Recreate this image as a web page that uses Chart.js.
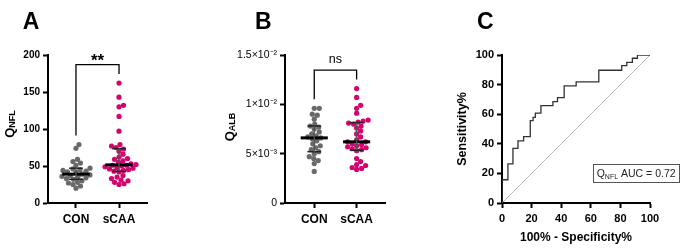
<!DOCTYPE html>
<html lang="en">
<head>
<meta charset="UTF-8">
<title>QNFL / QALB / ROC</title>
<style>
  * { margin: 0; padding: 0; box-sizing: border-box; }
  body { width: 685px; height: 251px; background: #fff; position: relative; overflow: hidden; }
  canvas { position: absolute; top: 0; }
  #chartA { left: 0; }
  #chartB { left: 220px; }
  #chartC { left: 440px; }
</style>
</head>
<body>
<canvas id="chartA" width="220" height="251"></canvas>
<canvas id="chartB" width="220" height="251"></canvas>
<canvas id="chartC" width="245" height="251"></canvas>
<script src="https://cdn.jsdelivr.net/npm/chart.js@4.4.0/dist/chart.umd.min.js"></script>
<script>
// ── Data ────────────────────────────────────────────────────────────────────
const groups = ["CON", "sCAA"];

const qnflCon  = [79, 74, 59, 56, 54, 51, 47, 46, 45, 44, 43, 42, 41, 39, 38, 37, 36, 35, 34, 33, 32, 30, 28, 27, 25, 23, 20];
const qnflScaa = [162, 143, 132, 130, 117, 97, 79, 77, 75, 73, 70, 66, 62, 60, 59, 57, 55, 53, 52, 51, 51, 50, 49, 48,
                  47, 46, 45, 44, 43, 42, 37, 35, 33, 31, 30, 28, 26, 25];
const qnflTicks = [0, 50, 100, 150, 200];
const qnflTickLabels = ["0", "50", "100", "150", "200"];

const qalbCon  = [0.0096, 0.0096, 0.0090, 0.0089, 0.0085, 0.0080, 0.0078, 0.0077, 0.0075, 0.0072, 0.0070, 0.0068, 0.0067,
                  0.0066, 0.0065, 0.0063, 0.0060, 0.0058, 0.0056, 0.0054, 0.0052, 0.0050, 0.0047, 0.0045, 0.0043, 0.0040, 0.0032];
const qalbScaa = [0.0116, 0.0107, 0.0099, 0.0096, 0.0091, 0.0084, 0.0083, 0.0082, 0.0081, 0.0080, 0.0078, 0.0076, 0.0073,
                  0.0070, 0.0067, 0.0064, 0.0062, 0.0062, 0.0060, 0.0059, 0.0058, 0.0057, 0.0056, 0.0055, 0.0054, 0.0053,
                  0.0045, 0.0042, 0.0039, 0.0038, 0.0036, 0.0035, 0.0034];
const qalbTicks = [0, 0.005, 0.010, 0.015];
const qalbTickLabels = ["0", "5×10⁻³", "1×10⁻²", "1.5×10⁻²"];

// ROC corners (100% - specificity, sensitivity)
const rocFpr  = [0, 0, 4.0, 7.4, 10.8, 14.6, 19.1, 21.0, 22.5, 26.3, 34.4, 37.5, 42.0, 50.1, 65.4, 80.9, 84.3, 88.1, 91.5, 100];
const rocSens = [0, 15.7, 26.5, 36.9, 42.0, 44.9, 55.7, 57.9, 60.7, 65.8, 68.5, 71.2, 79.1, 81.8, 89.7, 92.8, 95.0, 97.8, 100, 100];
const rocTicks = [0, 20, 40, 60, 80, 100];
const aucText = " AUC = 0.72";

const GREY = "#696969";
const PINK = "#d4046e";
const FONT = "'Liberation Sans', Arial, Helvetica, sans-serif";

Chart.defaults.font.family = FONT;
Chart.defaults.color = "#000";

// ── helpers ─────────────────────────────────────────────────────────────────
function quantile(arr, p) {
  const s = [...arr].sort((a, b) => a - b);
  const h = Math.min(Math.max((s.length + 1) * p - 1, 0), s.length - 1);
  const lo = Math.floor(h), hi = Math.ceil(h);
  return s[lo] + (h - lo) * (s[hi] - s[lo]);
}

function seg(x1, y1, x2, y2, color, width) {
  return {
    data: [{ x: x1, y: y1 }, { x: x2, y: y2 }],
    showLine: true, borderColor: color, borderWidth: width,
    pointRadius: 0, order: 0, borderCapStyle: "butt"
  };
}

// median with interquartile range
function summaryLines(values, cx) {
  const med = quantile(values, 0.5), q1 = quantile(values, 0.25), q3 = quantile(values, 0.75);
  return [
    seg(cx, q1, cx, q3, "#555", 1.4),
    seg(cx - 0.16, q1, cx + 0.16, q1, "#222", 1.5),
    seg(cx - 0.16, q3, cx + 0.16, q3, "#222", 1.5),
    seg(cx - 0.32, med, cx + 0.32, med, "#000", 3)
  ];
}

// simple beeswarm: spread points sideways in pixel space so they don't overlap much
function swarm(values, cx, chart, diam) {
  const xs = chart.scales.x, ys = chart.scales.y;
  const cpx = xs.getPixelForValue(cx);
  const placed = [];
  const out = new Array(values.length);
  const idx = values.map((_, i) => i).sort((a, b) => values[a] - values[b]);
  for (const i of idx) {
    const py = ys.getPixelForValue(values[i]);
    let dx = 0;
    for (let k = 0; k < 400; k++) {
      const cand = (k % 2 ? 1 : -1) * Math.ceil(k / 2) * 0.5;
      if (placed.every(p => Math.hypot(p.x - cand, p.y - py) >= diam)) { dx = cand; break; }
    }
    placed.push({ x: dx, y: py });
    out[i] = { x: xs.getValueForPixel(cpx + dx), y: values[i] };
  }
  return out;
}

const axisGrid = { display: true, drawOnChartArea: false, drawTicks: true, tickLength: 5, tickWidth: 2, tickColor: "#000" };
const axisBorder = { display: true, color: "#000", width: 2 };

// ── annotations: panel letter, subscript title, bracket, legend box ────────
const panelDecor = {
  id: "panelDecor",
  afterDraw(chart, args, o) {
    const { ctx, scales: { x, y } } = chart;
    ctx.save();
    ctx.fillStyle = "#000";
    ctx.textAlign = "left";
    ctx.textBaseline = "alphabetic";
    ctx.font = `bold 23px ${FONT}`;
    ctx.fillText(o.letter, o.letterX, 28.5);

    if (o.yTitle) {
      ctx.save();
      ctx.translate(13.6, o.yTitleY);
      ctx.rotate(-Math.PI / 2);
      ctx.font = `bold 13px ${FONT}`;
      const wQ = ctx.measureText(o.yTitle[0]).width;
      ctx.font = `bold 9px ${FONT}`;
      const wS = ctx.measureText(o.yTitle[1]).width;
      const x0 = -(wQ + wS) / 2;
      ctx.font = `bold 13px ${FONT}`;
      ctx.fillText(o.yTitle[0], x0, 0);
      ctx.font = `bold 9px ${FONT}`;
      ctx.fillText(o.yTitle[1], x0 + wQ, 1.5);
      ctx.restore();
    }

    if (o.sig) {
      const legs = o.groupMax.map((m, i) => ({ px: x.getPixelForValue(i + 1), py: y.getPixelForValue(m) - 9 }));
      const top = Math.min(...legs.map(l => l.py)) - 9.5;
      ctx.beginPath();
      ctx.moveTo(legs[0].px, legs[0].py);
      ctx.lineTo(legs[0].px, top);
      ctx.lineTo(legs[1].px, top);
      ctx.lineTo(legs[1].px, legs[1].py);
      ctx.lineWidth = 1.3;
      ctx.strokeStyle = "#000";
      ctx.stroke();
      ctx.font = o.sigFont;
      ctx.textAlign = "center";
      ctx.fillText(o.sig, (legs[0].px + legs[1].px) / 2, top - o.sigGap);
    }

    if (o.box) {
      const b = o.box;
      ctx.font = `10.5px ${FONT}`;
      const w1 = ctx.measureText(b.main).width;
      ctx.font = `7px ${FONT}`;
      const w2 = ctx.measureText(b.sub).width;
      ctx.font = `10.5px ${FONT}`;
      const w3 = ctx.measureText(b.rest).width;
      const bw = 4 + w1 + w2 + w3 + 3;
      ctx.fillStyle = "#fff";
      ctx.fillRect(b.x, b.y, bw, b.h);
      ctx.strokeStyle = "#555";
      ctx.lineWidth = 1;
      ctx.strokeRect(Math.round(b.x) + 0.5, Math.round(b.y) + 0.5, Math.round(bw), Math.round(b.h));
      ctx.fillStyle = "#222";
      const base = b.y + b.h / 2 + 3.8;
      ctx.fillText(b.main, b.x + 4, base);
      ctx.font = `7px ${FONT}`;
      ctx.fillText(b.sub, b.x + 4 + w1, base + 2);
      ctx.font = `10.5px ${FONT}`;
      ctx.fillText(b.rest, b.x + 4 + w1 + w2, base);
    }
    ctx.restore();
  }
};

// ── dot plot panels (A, B) ──────────────────────────────────────────────────
function dotChart(id, cfg) {
  const values = [cfg.con, cfg.scaa];
  const colors = [GREY, PINK];
  const dotSets = values.map((vals, g) => ({
    data: vals.map(v => ({ x: g + 1, y: v })),
    backgroundColor: colors[g], borderWidth: 0, pointRadius: 2.6, order: 1
  }));
  const lineSets = values.flatMap((vals, g) => summaryLines(vals, g + 1));

  const chart = new Chart(document.getElementById(id), {
    type: "scatter",
    data: { datasets: [...lineSets, ...dotSets] },
    options: {
      responsive: false, animation: false, events: [],
      layout: { padding: { top: 55, right: cfg.rightPad, left: 0, bottom: 0 } },
      plugins: {
        legend: { display: false }, tooltip: { enabled: false },
        panelDecor: {
          letter: cfg.letter, letterX: cfg.letterX,
          yTitle: cfg.yTitle, yTitleY: cfg.yTitleY,
          groupMax: values.map(v => Math.max(...v)),
          sig: cfg.sig, sigFont: cfg.sigFont, sigGap: cfg.sigGap
        }
      },
      scales: {
        x: {
          type: "linear", min: cfg.xMin, max: cfg.xMax,
          afterBuildTicks: s => { s.ticks = groups.map((_, i) => ({ value: i + 1 })); },
          afterFit: s => { s.height = 48; },
          ticks: { callback: (v, i) => groups[i], font: { size: 12, weight: "bold" }, color: "#000", padding: 4 },
          grid: axisGrid, border: axisBorder
        },
        y: {
          type: "linear", min: cfg.ticks[0], max: cfg.ticks[cfg.ticks.length - 1],
          afterBuildTicks: s => { s.ticks = cfg.ticks.map(v => ({ value: v })); },
          afterFit: s => { s.width = cfg.yAxisWidth; },
          ticks: { callback: (v, i) => cfg.tickLabels[i], font: cfg.tickFont, color: "#000", padding: 3 },
          grid: axisGrid, border: axisBorder
        }
      }
    },
    plugins: [panelDecor]
  });

  dotSets.forEach((ds, g) => {
    chart.data.datasets[lineSets.length + g].data = swarm(values[g], g + 1, chart, 4.7);
  });
  chart.update("none");
  return chart;
}

dotChart("chartA", {
  con: qnflCon, scaa: qnflScaa,
  ticks: qnflTicks, tickLabels: qnflTickLabels,
  tickFont: { size: 10, weight: "bold" },
  xMin: 0.35, xMax: 2.65, yAxisWidth: 48, rightPad: 73,
  letter: "A", letterX: 22.7,
  yTitle: ["Q", "NFL"], yTitleY: 124,
  sig: "**", sigFont: `bold 17px ${FONT}`, sigGap: -1
});

dotChart("chartB", {
  con: qalbCon, scaa: qalbScaa,
  ticks: qalbTicks, tickLabels: qalbTickLabels,
  tickFont: { size: 10.5 },
  xMin: 0.31, xMax: 2.67, yAxisWidth: 65, rightPad: 55,
  letter: "B", letterX: 35,
  yTitle: ["Q", "ALB"], yTitleY: 127,
  sig: "ns", sigFont: `12.5px ${FONT}`, sigGap: 7
});

// ── ROC panel (C) ───────────────────────────────────────────────────────────
new Chart(document.getElementById("chartC"), {
  type: "scatter",
  data: {
    datasets: [
      {
        data: rocFpr.map((x, i) => ({ x, y: rocSens[i] })),
        showLine: true, stepped: true, borderColor: "#333", borderWidth: 1.3, pointRadius: 0, order: 0
      },
      {
        data: [{ x: rocTicks[0], y: rocTicks[0] }, { x: rocTicks[rocTicks.length - 1], y: rocTicks[rocTicks.length - 1] }],
        showLine: true, borderColor: "#b5b5b5", borderWidth: 1, pointRadius: 0, order: 1
      }
    ]
  },
  options: {
    responsive: false, animation: false, events: [],
    layout: { padding: { top: 55, right: 35, left: 0, bottom: 0 } },
    plugins: {
      legend: { display: false }, tooltip: { enabled: false },
      panelDecor: {
        letter: "C", letterX: 37,
        box: { x: 152.7, y: 164.3, h: 18.4, main: "Q", sub: "NFL", rest: aucText }
      }
    },
    scales: {
      x: {
        type: "linear", min: 0, max: 100,
        afterBuildTicks: s => { s.ticks = rocTicks.map(v => ({ value: v })); },
        afterFit: s => { s.height = 48; },
        ticks: { font: { size: 11, weight: "bold" }, color: "#000", padding: 4 },
        title: { display: true, text: "100% - Specificity%", font: { size: 12, weight: "bold" }, color: "#000", padding: { top: 0, bottom: 6 } },
        grid: axisGrid, border: axisBorder
      },
      y: {
        type: "linear", min: 0, max: 100,
        afterBuildTicks: s => { s.ticks = rocTicks.map(v => ({ value: v })); },
        afterFit: s => { s.width = 62; },
        ticks: { font: { size: 11, weight: "bold" }, color: "#000", padding: 3 },
        title: { display: true, text: "Sensitivity%", font: { size: 12.5, weight: "bold" }, color: "#000", padding: { top: 15, bottom: 0 } },
        grid: axisGrid, border: axisBorder
      }
    }
  },
  plugins: [panelDecor]
});
</script>
</body>
</html>
